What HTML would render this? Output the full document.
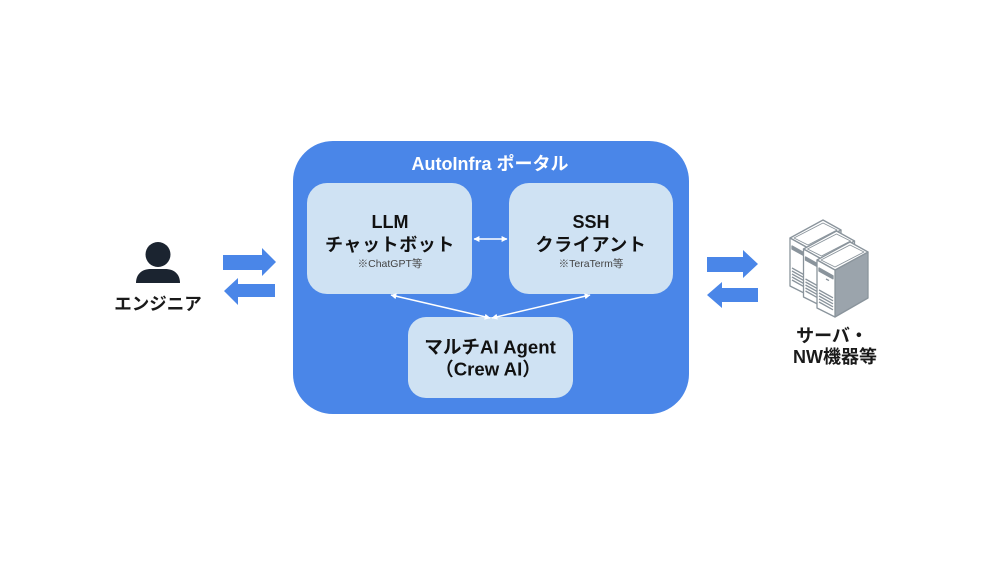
<!DOCTYPE html>
<html>
<head>
<meta charset="utf-8">
<style>
  html,body{margin:0;padding:0;background:#fff;}
  svg{display:block;}
  text{font-family:"Liberation Sans","Noto Sans CJK JP",sans-serif;}
</style>
</head>
<body>
<svg width="1000" height="563" viewBox="0 0 1000 563" xmlns="http://www.w3.org/2000/svg">
  <defs>
    <marker id="ah" viewBox="0 0 10 10" refX="9" refY="5" markerWidth="6" markerHeight="6" orient="auto-start-reverse" markerUnits="userSpaceOnUse">
      <path d="M0,0 L10,5 L0,10 Z" fill="#ffffff"/>
    </marker>
  </defs>
  <rect x="0" y="0" width="1000" height="563" fill="#ffffff"/>

  <!-- Person icon -->
  <circle cx="158" cy="254.5" r="12.5" fill="#1b2430"/>
  <path d="M136,283 C136,274 142,269 151,269 L165,269 C174,269 180,274 180,283 Z" fill="#1b2430"/>
  <text x="158" y="304" text-anchor="middle" dominant-baseline="central" font-size="17.5" font-weight="bold" fill="#1a1a1a">エンジニア</text>

  <!-- Left arrows -->
  <polygon points="223,255 262,255 262,248 276,262 262,276 262,270 223,270" fill="#4a86e8"/>
  <polygon points="275,284 238,284 238,278 224,291 238,305 238,297 275,297" fill="#4a86e8"/>

  <!-- Main portal box -->
  <rect x="293" y="141" width="396" height="273" rx="40" ry="40" fill="#4a86e8"/>
  <text x="490" y="164" text-anchor="middle" dominant-baseline="central" font-size="18" font-weight="bold" fill="#ffffff">AutoInfra ポータル</text>

  <!-- LLM box -->
  <rect x="307" y="183" width="165" height="111" rx="20" ry="20" fill="#cfe2f3"/>
  <text x="390" y="222" text-anchor="middle" dominant-baseline="central" font-size="18" font-weight="bold" fill="#111">LLM</text>
  <text x="390" y="245" text-anchor="middle" dominant-baseline="central" font-size="18" font-weight="bold" fill="#111" letter-spacing="0.6">チャットボット</text>
  <text x="390" y="264" text-anchor="middle" dominant-baseline="central" font-size="10.5" fill="#444">※ChatGPT等</text>

  <!-- SSH box -->
  <rect x="509" y="183" width="164" height="111" rx="20" ry="20" fill="#cfe2f3"/>
  <text x="591" y="222" text-anchor="middle" dominant-baseline="central" font-size="18" font-weight="bold" fill="#111">SSH</text>
  <text x="591" y="245" text-anchor="middle" dominant-baseline="central" font-size="18" font-weight="bold" fill="#111" letter-spacing="0.6">クライアント</text>
  <text x="591" y="264" text-anchor="middle" dominant-baseline="central" font-size="10.5" fill="#444">※TeraTerm等</text>

  <!-- Agent box -->
  <rect x="408" y="317" width="165" height="81" rx="18" ry="18" fill="#cfe2f3"/>
  <text x="490" y="347" text-anchor="middle" dominant-baseline="central" font-size="18.6" font-weight="bold" fill="#111">マルチAI Agent</text>
  <text x="488" y="369" text-anchor="middle" dominant-baseline="central" font-size="18.6" font-weight="bold" fill="#111">（Crew AI）</text>

  <!-- Connectors -->
  <line x1="474" y1="239" x2="507" y2="239" stroke="#ffffff" stroke-width="1.5" marker-start="url(#ah)" marker-end="url(#ah)"/>
  <line x1="391" y1="295" x2="490" y2="318" stroke="#ffffff" stroke-width="1.5" marker-start="url(#ah)" marker-end="url(#ah)"/>
  <line x1="590" y1="295" x2="492" y2="318" stroke="#ffffff" stroke-width="1.5" marker-start="url(#ah)" marker-end="url(#ah)"/>

  <!-- Right arrows -->
  <polygon points="707,257 743,257 743,250 758,264 743,278 743,272 707,272" fill="#4a86e8"/>
  <polygon points="758,288 722,288 722,282 707,295 722,308 722,302 758,302" fill="#4a86e8"/>

  <!-- Servers -->
  <g stroke="#8a949c" stroke-width="1.3" stroke-linejoin="round" fill="#ffffff">
    <!-- back -->
    <g transform="translate(790,238)">
      <path d="M18,10 L51,-8 L51,38 L18,57 Z"/>
      <path d="M0,0 L33,-18 L51,-8 L18,10 Z"/>
      <path d="M4,0 L33,-15 L47,-8 L18,7 Z" fill="none" stroke-width="0.9"/>
      <path d="M0,0 L18,10 L18,57 L0,48 Z"/>
      <path d="M2,8 L16,15.8 L16,18.8 L2,11 Z" fill="#8a949c"/>
      <line x1="2" y1="30" x2="16" y2="37.8"/>
      <line x1="2" y1="33" x2="16" y2="40.8"/>
      <line x1="2" y1="36" x2="16" y2="43.8"/>
      <line x1="2" y1="39" x2="16" y2="46.8"/>
      <line x1="2" y1="42" x2="16" y2="49.8"/>
    </g>
    <!-- middle -->
    <g transform="translate(803.5,249)">
      <path d="M18,10 L51,-8 L51,38 L18,57 Z"/>
      <path d="M0,0 L33,-18 L51,-8 L18,10 Z"/>
      <path d="M4,0 L33,-15 L47,-8 L18,7 Z" fill="none" stroke-width="0.9"/>
      <path d="M0,0 L18,10 L18,57 L0,48 Z"/>
      <path d="M2,8 L16,15.8 L16,18.8 L2,11 Z" fill="#8a949c"/>
      <line x1="2" y1="30" x2="16" y2="37.8"/>
      <line x1="2" y1="33" x2="16" y2="40.8"/>
      <line x1="2" y1="36" x2="16" y2="43.8"/>
      <line x1="2" y1="39" x2="16" y2="46.8"/>
      <line x1="2" y1="42" x2="16" y2="49.8"/>
    </g>
    <!-- front -->
    <g transform="translate(817,260)">
      <path d="M18,10 L51,-8 L51,38 L18,57 Z" fill="#9ba4ac"/>
      <path d="M0,0 L33,-18 L51,-8 L18,10 Z"/>
      <path d="M4,0 L33,-15 L47,-8 L18,7 Z" fill="none" stroke-width="0.9"/>
      <path d="M0,0 L18,10 L18,57 L0,48 Z"/>
      <path d="M2,8 L16,15.8 L16,18.8 L2,11 Z" fill="#8a949c"/>
      <line x1="9" y1="19" x2="12" y2="20.6"/>
      <line x1="2" y1="30" x2="16" y2="37.8"/>
      <line x1="2" y1="33" x2="16" y2="40.8"/>
      <line x1="2" y1="36" x2="16" y2="43.8"/>
      <line x1="2" y1="39" x2="16" y2="46.8"/>
      <line x1="2" y1="42" x2="16" y2="49.8"/>
    </g>
  </g>

  <text x="832" y="336" text-anchor="middle" dominant-baseline="central" font-size="18" font-weight="bold" fill="#1a1a1a">サーバ・</text>
  <text x="835" y="357" text-anchor="middle" dominant-baseline="central" font-size="18" font-weight="bold" fill="#1a1a1a">NW機器等</text>
</svg>
</body>
</html>
